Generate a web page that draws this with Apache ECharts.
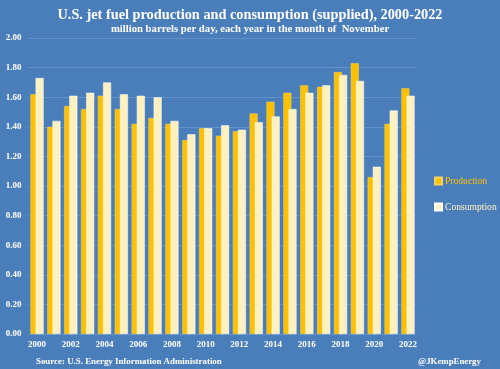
<!DOCTYPE html>
<html><head><meta charset="utf-8">
<script src="https://cdn.jsdelivr.net/npm/echarts@6/dist/echarts.min.js"></script>
<style>html,body{margin:0;padding:0;background:#4A7EBB;}#c{width:500px;height:369px;}</style>
</head><body><div id="c"></div>
<script>
const years = ['2000','2001','2002','2003','2004','2005','2006','2007','2008','2009','2010','2011','2012','2013','2014','2015','2016','2017','2018','2019','2020','2021','2022'];
const production = [1.62,1.40,1.54,1.52,1.61,1.52,1.42,1.46,1.42,1.31,1.39,1.34,1.37,1.49,1.57,1.63,1.68,1.67,1.77,1.83,1.06,1.42,1.66];
const consumption = [1.73,1.44,1.61,1.63,1.70,1.62,1.61,1.60,1.44,1.35,1.39,1.41,1.38,1.43,1.47,1.52,1.63,1.68,1.75,1.71,1.13,1.51,1.61];
const yTicks = ['0.00','0.20','0.40','0.60','0.80','1.00','1.20','1.40','1.60','1.80','2.00'];
const FONT = '"Liberation Serif", "DejaVu Serif", serif';
const chart = echarts.init(document.getElementById('c'), null, {renderer:'canvas'});
chart.setOption({
  backgroundColor: '#4A7EBB',
  animation: false,
  title: [{
    text: 'U.S. jet fuel production and consumption (supplied), 2000-2022',
    left: 'center', top: 3,
    textStyle: {color:'#fff', fontFamily: FONT, fontWeight:'bold', fontSize: 14.3}
  },{
    text: 'million barrels per day, each year in the month of  November',
    left: 'center', top: 19,
    textStyle: {color:'#fff', fontFamily: FONT, fontWeight:'bold', fontSize: 10.7}
  },{
    text: 'Source: U.S. Energy Information Administration',
    left: 31, top: 352,
    textStyle: {color:'#fff', fontFamily: FONT, fontWeight:'bold', fontSize: 8.9}
  },{
    text: '@JKempEnergy',
    left: 413, top: 352,
    textStyle: {color:'#fff', fontFamily: FONT, fontWeight:'bold', fontSize: 8.8}
  }],
  legend: {
    orient: 'vertical', left: 429, top: 171, itemGap: 16,
    itemWidth: 7, itemHeight: 7, icon: 'rect',
    textStyle: {fontFamily: FONT, fontWeight:'normal', fontSize: 9.6, padding: [0,0,0,-2]},
    data: [
      {name:'Production', textStyle:{color:'#FFC000'}},
      {name:'Consumption', textStyle:{color:'#FFF0C0'}}
    ]
  },
  grid: {left: 28.6, right: 83.6, top: 38, bottom: 35},
  xAxis: {
    type: 'category', data: years,
    axisLine: {show: false}, axisTick: {show: false},
    axisLabel: {color:'#fff', fontFamily: FONT, fontWeight:'bold', fontSize: 9, interval: 1, margin: 6}
  },
  yAxis: {
    type: 'value', min: 0, max: 2, interval: 0.2,
    axisLine: {show:false}, axisTick:{show:false},
    splitLine: {lineStyle: {color:'#6393CB', width: 1}},
    axisLabel: {color:'#fff', fontFamily: FONT, fontWeight:'bold', fontSize: 9, margin: 7,
      formatter: (v) => yTicks[Math.round(v/0.2)]}
  },
  series: [{
    name:'Production', type:'bar', data: production,
    barWidth: 8, barGap: '-35%',
    itemStyle: {color:'#FFC000', borderColor:'#F5D25A', borderWidth: 0.5}
  },{
    name:'Consumption', type:'bar', data: consumption,
    barWidth: 8,
    itemStyle: {color:'#FFF0C0', borderColor:'#FFFFFF', borderWidth: 0.5}
  }]
});
</script></body></html>
